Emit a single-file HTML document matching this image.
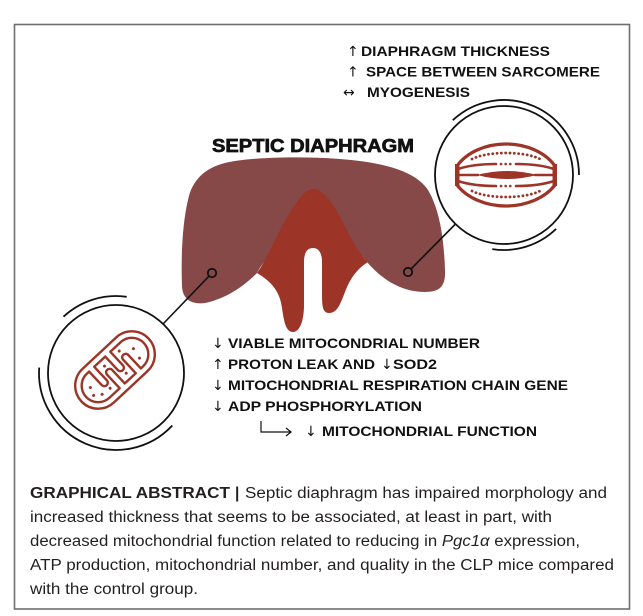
<!DOCTYPE html>
<html>
<head>
<meta charset="utf-8">
<style>
  html, body { margin: 0; padding: 0; background: #ffffff; }
  svg { display: block; }
  .cap { font-family: "Liberation Sans", "DejaVu Sans", sans-serif; font-weight: bold; fill: #111; }
  .arr { font-family: "DejaVu Sans", "Liberation Sans", sans-serif; font-weight: normal; fill: #111; }
  .abs { font-family: "Liberation Sans", sans-serif; font-size: 15.5px; fill: #231f20; }
</style>
</head>
<body>
<svg width="643" height="616" viewBox="0 0 643 616" xmlns="http://www.w3.org/2000/svg">
  <rect x="0" y="0" width="643" height="616" fill="#ffffff"/>
  <!-- frame -->
  <rect x="14.5" y="24.5" width="615" height="584.5" fill="none" stroke="#6e6e6e" stroke-width="1.6"/>

  <!-- top-right list -->
  <text class="arr" x="347" y="56" font-size="14">↑</text>
  <text class="cap" x="361" y="56" font-size="14" textLength="189" lengthAdjust="spacingAndGlyphs">DIAPHRAGM THICKNESS</text>
  <text class="arr" x="347" y="76.5" font-size="14">↑</text>
  <text class="cap" x="366" y="76.5" font-size="14" textLength="234" lengthAdjust="spacingAndGlyphs">SPACE BETWEEN SARCOMERE</text>
  <text class="arr" x="343" y="97" font-size="14">↔</text>
  <text class="cap" x="367" y="97" font-size="14" textLength="103" lengthAdjust="spacingAndGlyphs">MYOGENESIS</text>

  <!-- title -->
  <text class="cap" x="212" y="152" font-size="18" stroke="#111" stroke-width="0.7" textLength="202" lengthAdjust="spacingAndGlyphs">SEPTIC DIAPHRAGM</text>

  <!-- diaphragm shapes -->
  <path d="M 257 273 C 245 285, 228 298, 205 303 C 190 305, 182 298, 182 285 C 181 260, 182 225, 188 200 C 192 180, 205 168, 225 163 C 250 157, 300 156, 340 159 C 380 162, 415 170, 428 190 C 440 210, 444 240, 445 270 C 446 288, 438 292, 425 292 C 405 292, 385 283, 367 262 C 345 228, 280 228, 257 273 Z" fill="#874848"/>
  <path d="M 257 273 C 270 255, 280 225, 295 205 C 303 193, 308 189, 313 189 C 320 189, 327 195, 335 208 C 348 230, 355 250, 368 262 C 358 268, 350 278, 345 292 C 340 305, 337 313, 329 313 C 322 313, 322 305, 322 290 L 322 262 C 322 252, 318 248, 313 248 C 307 248, 304 253, 304 262 L 304 305 C 304 320, 300 332, 293 332 C 286 332, 284 322, 282 308 C 280 292, 272 282, 257 273 Z" fill="#9c3427"/>

  <!-- connectors -->
  <line x1="209.2" y1="275.9" x2="163" y2="324" stroke="#111" stroke-width="1.6"/>
  <circle cx="212" cy="273" r="4.2" fill="none" stroke="#111" stroke-width="1.8"/>
  <line x1="410.8" y1="269.2" x2="455.5" y2="224" stroke="#111" stroke-width="1.6"/>
  <circle cx="408" cy="272" r="4.2" fill="none" stroke="#111" stroke-width="1.8"/>

  <!-- mitochondrion circle -->
  <circle cx="116" cy="373" r="68" fill="#fff" stroke="#111" stroke-width="1.8"/>
  <path d="M 63.5 316.7 A 77 77 0 0 1 126.7 296.8" fill="none" stroke="#111" stroke-width="1.8"/>
  <path d="M 39.2 367.6 A 77 77 0 0 0 172.3 425.5" fill="none" stroke="#111" stroke-width="1.8"/>
  <g transform="translate(115 370) rotate(-43)" fill="none" stroke="#9c3427" stroke-width="2.4" stroke-linejoin="round">
    <rect x="-46" y="-23" width="92" height="46" rx="23" ry="23"/>
    <path d="M -23 -16.5 L -20 -16.5 L -20 2 A 3.5 3.5 0 0 0 -13 2 L -13 -16.5 L 2 -16.5 L 2 2 A 3.5 3.5 0 0 0 9 2 L 9 -16.5 L 23 -16.5 A 16.5 16.5 0 0 1 23 16.5 L 20 16.5 L 20 -2 A 3.5 3.5 0 0 0 13 -2 L 13 16.5 L -2 16.5 L -2 -2 A 3.5 3.5 0 0 0 -9 -2 L -9 16.5 L -23 16.5 A 16.5 16.5 0 0 1 -23 -16.5 Z"/>
    <g fill="#9c3427" stroke="none">
      <circle cx="-30" cy="-4" r="1.5"/>
      <circle cx="-26" cy="9" r="1.5"/>
      <circle cx="-5" cy="-10" r="1.5"/>
      <circle cx="-16" cy="10" r="1.5"/>
      <circle cx="6" cy="10" r="1.5"/>
      <circle cx="16" cy="-11" r="1.5"/>
      <circle cx="28" cy="-3" r="1.5"/>
      <circle cx="26" cy="8" r="1.5"/>
      <circle cx="-33" cy="4" r="1.5"/>
    </g>
  </g>

  <!-- sarcomere circle -->
  <circle cx="504" cy="175" r="69" fill="#fff" stroke="#111" stroke-width="1.8"/>
  <path d="M 452.8 120.2 A 75 75 0 0 1 579 175" fill="none" stroke="#111" stroke-width="1.8"/>
  <path d="M 492.3 249.1 A 75 75 0 0 0 556.1 228.9" fill="none" stroke="#111" stroke-width="1.8"/>
  <g fill="none" stroke="#9c3427" stroke-linecap="round">
    <path d="M 457 166 C 467 152, 486 144, 506 144 C 526 144, 545 152, 555 166" stroke-width="3.2"/>
    <path d="M 457 185 C 467 198, 486 206, 506 206 C 526 206, 545 198, 555 185" stroke-width="3.2"/>
    <path d="M 472 159 C 488 151, 524 151, 540 159" stroke-width="2.8" stroke-dasharray="0.1 4.2"/>
    <path d="M 472 191 C 488 199, 524 199, 540 191" stroke-width="2.8" stroke-dasharray="0.1 4.2"/>
    <path d="M 458 169 C 470 165, 484 164, 496 164" stroke-width="2.6"/>
    <path d="M 516 164 C 528 164, 542 165, 554 169" stroke-width="2.6"/>
    <path d="M 501 164 L 512 164" stroke-width="2.6" stroke-dasharray="0.1 4.5"/>
    <path d="M 458 181 C 470 185, 484 186, 496 186" stroke-width="2.6"/>
    <path d="M 516 186 C 528 186, 542 185, 554 181" stroke-width="2.6"/>
    <path d="M 501 186 L 512 186" stroke-width="2.6" stroke-dasharray="0.1 4.5"/>
    <path d="M 458 175 L 478 175 M 535 175 L 555 175" stroke-width="2.4"/>
  </g>
  <path d="M 477 175 Q 507 167 537 175 Q 507 183 477 175 Z" fill="#9c3427"/>
  <rect x="455" y="164" width="4.5" height="22" fill="#9c3427"/>
  <rect x="552.5" y="164" width="4.5" height="22" fill="#9c3427"/>

  <!-- lower list -->
  <text class="arr" x="212" y="348" font-size="14">↓</text>
  <text class="cap" x="228" y="348" font-size="14" textLength="252" lengthAdjust="spacingAndGlyphs">VIABLE MITOCONDRIAL NUMBER</text>
  <text class="arr" x="212" y="369" font-size="14">↑</text>
  <text class="cap" x="228" y="369" font-size="14" textLength="147" lengthAdjust="spacingAndGlyphs">PROTON LEAK AND</text>
  <text class="arr" x="381" y="369" font-size="14">↓</text>
  <text class="cap" x="393" y="369" font-size="14" textLength="44" lengthAdjust="spacingAndGlyphs">SOD2</text>
  <text class="arr" x="212" y="390" font-size="14">↓</text>
  <text class="cap" x="228" y="390" font-size="14" textLength="340" lengthAdjust="spacingAndGlyphs">MITOCHONDRIAL RESPIRATION CHAIN GENE</text>
  <text class="arr" x="212" y="411" font-size="14">↓</text>
  <text class="cap" x="228" y="411" font-size="14" textLength="194" lengthAdjust="spacingAndGlyphs">ADP PHOSPHORYLATION</text>
  <path d="M 261 421 L 261 432 L 291 432 M 286 428 L 291 432 L 286 436" fill="none" stroke="#111" stroke-width="1.2"/>
  <text class="arr" x="305" y="436" font-size="14">↓</text>
  <text class="cap" x="322" y="436" font-size="14" textLength="215" lengthAdjust="spacingAndGlyphs">MITOCHONDRIAL FUNCTION</text>

  <!-- abstract text -->
  <text class="abs" x="30" y="498" font-weight="bold" textLength="200" lengthAdjust="spacingAndGlyphs">GRAPHICAL ABSTRACT</text>
  <text class="abs" x="235" y="498" font-weight="bold">|</text>
  <text class="abs" x="245" y="498" textLength="362" lengthAdjust="spacingAndGlyphs">Septic diaphragm has impaired morphology and</text>
  <text class="abs" x="30" y="522" textLength="522" lengthAdjust="spacingAndGlyphs">increased thickness that seems to be associated, at least in part, with</text>
  <text class="abs" x="30" y="546" textLength="550" lengthAdjust="spacingAndGlyphs">decreased mitochondrial function related to reducing in <tspan font-style="italic">Pgc1α</tspan> expression,</text>
  <text class="abs" x="30" y="570" textLength="584" lengthAdjust="spacingAndGlyphs">ATP production, mitochondrial number, and quality in the CLP mice compared</text>
  <text class="abs" x="30" y="594" textLength="168" lengthAdjust="spacingAndGlyphs">with the control group.</text>
</svg>
</body>
</html>
